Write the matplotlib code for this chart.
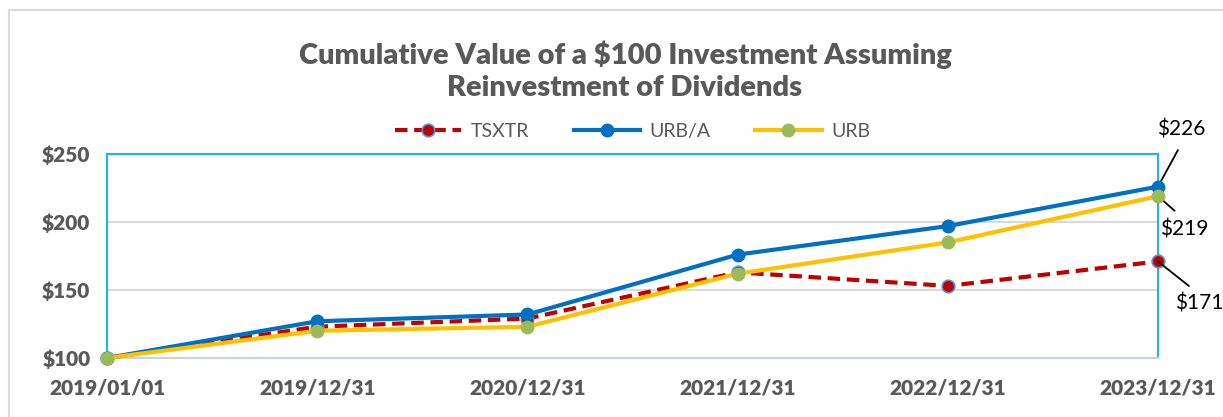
import numpy as np
from matplotlib import pyplot as plt
from matplotlib.patches import Rectangle

# data
dates = ["2019/01/01", "2019/12/31", "2020/12/31", "2021/12/31", "2022/12/31", "2023/12/31"]
tsxtr = [100, 123, 129, 163, 153, 171]
urb_a = [100, 127, 132, 176, 197, 226]
urb = [100, 120, 123, 162, 185, 219]
yticks = [100, 150, 200, 250]

plt.rcParams['font.family'] = ['Lato', 'DejaVu Sans']

W, H = 1223, 417
fig = plt.figure(figsize=(W / 100, H / 100), dpi=100)
ax = fig.add_axes([107/W, 59/H, 1051/W, 204/H])

def fy(py):
    # pixel row from the top -> figure fraction
    return 1 - py / H

# outer chart border (left/top only visible)
fig.patches.append(Rectangle((9/W, -0.1), 1.2, fy(10) + 0.1, transform=fig.transFigure,
                             fill=False, edgecolor='#d9d9d9', linewidth=1.5, zorder=0))

x = np.arange(len(dates))
ax.plot(x, tsxtr, color='#c00000', lw=3, ls=(0, (3, 1.6)), marker='o', ms=9,
        mfc='#c00000', mec='#5b8bd0', mew=1.2, label='TSXTR', zorder=3, clip_on=False)
ax.plot(x, urb_a, color='#0070c0', lw=3, marker='o', ms=9,
        mfc='#0070c0', mec='#0070c0', label='URB/A', zorder=4, clip_on=False)
ax.plot(x, urb, color='#ffc000', lw=3, marker='o', ms=9,
        mfc='#9bbb59', mec='#9bbb59', label='URB', zorder=5, clip_on=False)

ax.set_xlim(0, len(dates) - 1)
ax.set_ylim(100, 250)
ax.set_yticks(yticks)
ax.set_yticklabels(['$%d' % v for v in yticks])
ax.set_xticks(x)
ax.set_xticklabels(dates)
ax.tick_params(length=0, labelsize=15, labelcolor='#595959')
for lab in ax.get_xticklabels() + ax.get_yticklabels():
    lab.set_fontweight('heavy')
ax.tick_params(axis='y', pad=12)
ax.tick_params(axis='x', pad=15)

ax.grid(axis='y', color='#d9d9d9', lw=1.5)
ax.set_axisbelow(True)
for s in ['left', 'top', 'right']:
    ax.spines[s].set_color('#1fb4ea')
    ax.spines[s].set_linewidth(1.5)
ax.spines['bottom'].set_color('#c8d4da')
ax.spines['bottom'].set_linewidth(1.5)

fig.text(0.511, fy(71), 'Cumulative Value of a $100 Investment Assuming\nReinvestment of Dividends',
         ha='center', va='center', fontsize=21, fontweight='heavy', color='#595959', linespacing=1.3)

ax.legend(loc='center', bbox_to_anchor=(0.5, 1.11), ncol=3, frameon=False, fontsize=14,
          labelcolor='#595959', handlelength=3.4, columnspacing=2.3, handletextpad=0.5)

# end-point labels with leader lines (label pos in px, anchor of the leader on the text box)
last = len(dates) - 1
labels = [(urb_a[-1], 1181, 130, (0.55, 0)), (urb[-1], 1184, 229, (0.5, 1)),
          (tsxtr[-1], 1199, 304, (0.5, 1))]
for val, px, py, rel in labels:
    ax.annotate('$%d' % val, xy=(last, val), xytext=(px / W, fy(py)),
                textcoords='figure fraction', ha='center', va='center', fontsize=15,
                arrowprops=dict(arrowstyle='-', color='black', lw=1.3, relpos=rel,
                                shrinkA=6, shrinkB=0),
                annotation_clip=False)

fig.savefig('out.png', dpi=100)
